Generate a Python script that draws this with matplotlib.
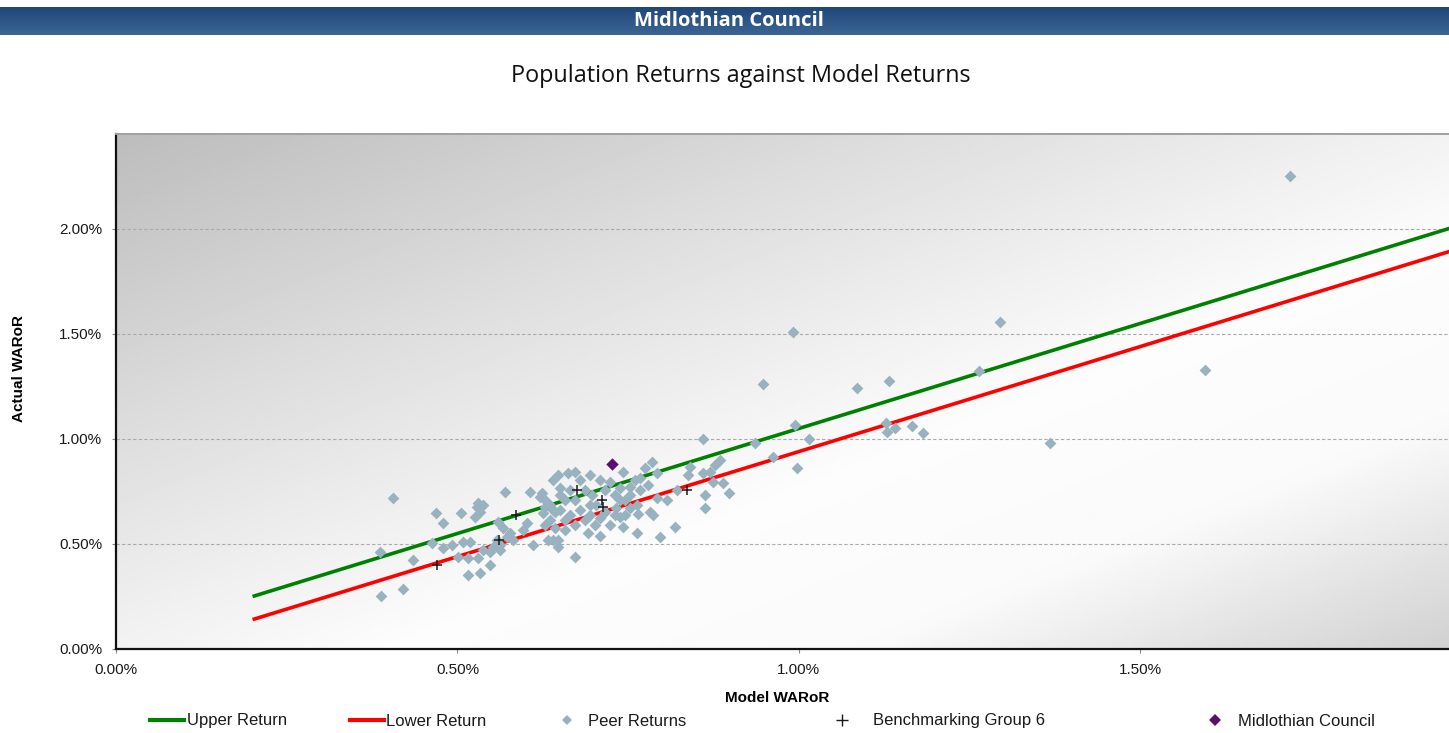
import matplotlib
matplotlib.use("Agg")
import matplotlib.pyplot as plt
import numpy as np
from matplotlib.lines import Line2D
from matplotlib.colors import LinearSegmentedColormap
from matplotlib.ticker import FuncFormatter, MultipleLocator

plt.rcParams['font.family'] = ['Liberation Sans', 'DejaVu Sans']

# 数据（单位：%）
peer_x = [1.719, 1.294, 0.991, 1.264, 1.594, 1.367, 0.947, 1.085, 1.132, 0.994,
          1.015, 0.997, 0.962, 0.936, 1.127, 1.129, 1.141, 1.165, 1.182,
          0.884, 0.889, 0.897, 0.859,
          0.877, 0.859, 0.870, 0.840, 0.837, 0.874, 0.862, 0.862, 0.818, 0.796,
          0.763, 0.742, 0.709, 0.691, 0.672, 0.647, 0.647, 0.611, 0.785, 0.775,
          0.792, 0.779, 0.753, 0.767, 0.792, 0.807, 0.763, 0.782, 0.764, 0.786,
          0.738, 0.732, 0.821, 0.742, 0.709, 0.694, 0.662, 0.647,
          0.672, 0.679, 0.687, 0.697, 0.703, 0.716, 0.723, 0.731, 0.738, 0.745,
          0.753, 0.760, 0.628, 0.635, 0.643, 0.650, 0.657, 0.665, 0.672, 0.679,
          0.687, 0.694, 0.701, 0.709, 0.716, 0.723, 0.731, 0.745, 0.753, 0.650,
          0.657, 0.665, 0.672, 0.635, 0.643, 0.628, 0.657, 0.633, 0.621, 0.640,
          0.650, 0.694, 0.738, 0.767,
          0.387, 0.388, 0.406, 0.420, 0.435, 0.469, 0.479, 0.505, 0.463, 0.479,
          0.492, 0.501, 0.515, 0.515, 0.530, 0.533, 0.548, 0.548, 0.537, 0.562,
          0.558, 0.572, 0.581, 0.559, 0.526, 0.533, 0.529, 0.537, 0.570, 0.606,
          0.624, 0.530, 0.567, 0.577, 0.596, 0.602, 0.625, 0.640, 0.640, 0.628,
          0.562, 0.552, 0.518, 0.508]
peer_y = [2.252, 1.557, 1.510, 1.324, 1.329, 0.981, 1.262, 1.243, 1.276, 1.067,
          1.000, 0.862, 0.914, 0.981, 1.076, 1.033, 1.052, 1.062, 1.029,
          0.900, 0.790, 0.743, 1.000,
          0.876, 0.838, 0.843, 0.867, 0.829, 0.795, 0.733, 0.671, 0.581, 0.533,
          0.552, 0.581, 0.538, 0.552, 0.438, 0.519, 0.486, 0.495, 0.890, 0.862,
          0.838, 0.781, 0.771, 0.757, 0.719, 0.710, 0.686, 0.652, 0.643, 0.638,
          0.629, 0.671, 0.757, 0.843, 0.805, 0.829, 0.838, 0.829,
          0.843, 0.805, 0.757, 0.733, 0.686, 0.757, 0.795, 0.733, 0.767, 0.710,
          0.733, 0.805, 0.710, 0.686, 0.652, 0.662, 0.614, 0.638, 0.590, 0.662,
          0.614, 0.638, 0.590, 0.624, 0.652, 0.590, 0.638, 0.638, 0.671, 0.733,
          0.710, 0.757, 0.710, 0.614, 0.576, 0.590, 0.567, 0.519, 0.724, 0.805,
          0.767, 0.686, 0.710, 0.814,
          0.462, 0.252, 0.719, 0.286, 0.424, 0.648, 0.600, 0.648, 0.505, 0.481,
          0.495, 0.438, 0.433, 0.352, 0.433, 0.362, 0.400, 0.462, 0.471, 0.471,
          0.519, 0.533, 0.519, 0.605, 0.629, 0.652, 0.676, 0.686, 0.748, 0.748,
          0.743, 0.695, 0.576, 0.552, 0.567, 0.600, 0.648, 0.662, 0.519, 0.676,
          0.495, 0.486, 0.510, 0.510]

bench_x = [0.470, 0.561, 0.586, 0.675, 0.712, 0.713, 0.836]
bench_y = [0.400, 0.519, 0.638, 0.757, 0.710, 0.676, 0.757]

council_x = [0.726]
council_y = [0.881]

line_x = [0.2, 2.0]
upper_y = [0.25, 2.05]
lower_y = [0.14, 1.94]

W, H = 1449, 733
fig = plt.figure(figsize=(W / 100, H / 100), dpi=100)

# 顶部蓝色标题栏
hax = fig.add_axes([0, 1 - 35 / H, 1, 28 / H])
hax.axis('off')
blue = LinearSegmentedColormap.from_list('hdr', ['#20477a', '#3a6593'])
hax.imshow(np.linspace(0, 1, 50).reshape(-1, 1), cmap=blue, aspect='auto',
           extent=[0, 1, 0, 1])
hax.set_xlim(0, 1)
hax.set_ylim(0, 1)
hax.text(0.503, 0.5, 'Midlothian Council', color='white', fontsize=14.5,
         fontweight='bold', family='Open Sans', ha='center', va='center')

fig.text(0.511, 1 - 76 / H, 'Population Returns against Model Returns',
         fontsize=16.8, family='Open Sans', ha='center', va='center', color='#111111')

# 主图
ax = fig.add_axes([116 / W, (H - 649) / H, (W - 116) / W, 515 / H])

# 背景渐变
u = np.linspace(0, 1, 400)
v = np.linspace(1, 0, 250)
U, V = np.meshgrid(u, v)
s = (U + (1 - V)) / 2
bg = np.interp(s, [0, 0.3, 0.6, 0.78, 1.0], [0.74, 0.87, 0.99, 0.98, 0.82])
ax.imshow(bg, cmap='gray', vmin=0, vmax=1, extent=[0, 1, 0, 1],
          transform=ax.transAxes, aspect='auto', zorder=0, interpolation='bilinear')

ax.plot(line_x, upper_y, color='#008000', lw=2.6, zorder=2, solid_capstyle='butt')
ax.plot(line_x, lower_y, color='#ff0000', lw=2.6, zorder=2, solid_capstyle='butt')
ax.scatter(peer_x, peer_y, marker='D', s=36, color='#98b2bf', linewidths=0, zorder=3)
ax.scatter(bench_x, bench_y, marker='+', s=55, color='#1a1a1a', linewidths=1.1, zorder=4)
ax.scatter(council_x, council_y, marker='D', s=40, color='#5a0f6e', linewidths=0, zorder=5)

ax.set_xlim(0, 1.952)
ax.set_ylim(0, 2.452)
ax.xaxis.set_major_locator(MultipleLocator(0.5))
ax.yaxis.set_major_locator(MultipleLocator(0.5))
pct = FuncFormatter(lambda val, _: f'{val:.2f}%')
ax.xaxis.set_major_formatter(pct)
ax.yaxis.set_major_formatter(pct)
ax.tick_params(labelsize=11, length=3, width=0.8, color='#888888',
               labelcolor='#1a1a1a', pad=7)
ax.yaxis.grid(True, linestyle=(0, (3, 2)), color='#aaaaaa', lw=0.8, zorder=1)
ax.set_axisbelow(True)

ax.spines['left'].set_color('#111111')
ax.spines['left'].set_linewidth(1.6)
ax.spines['bottom'].set_color('#111111')
ax.spines['bottom'].set_linewidth(1.6)
ax.spines['top'].set_color('#a0a0a0')
ax.spines['top'].set_linewidth(1.4)
ax.spines['right'].set_visible(False)

ax.set_xlabel('Model WARoR', fontsize=11, fontweight='bold')
ax.set_ylabel('Actual WARoR', fontsize=11, fontweight='bold')
ax.xaxis.set_label_coords((777 - 116) / 1333, (649 - 691) / 515)
ax.yaxis.set_label_coords((26 - 116) / 1333, (649 - 368) / 515)

# 图例（逐项放置）
fs = 12
fs_px = fs * 100 / 72
ly = 1 - 721 / H
entries = [
    (Line2D([], [], color='#008000', lw=3), 'Upper Return', 150, 34 / fs_px, 0.18),
    (Line2D([], [], color='#ff0000', lw=3), 'Lower Return', 350, 34 / fs_px, 0.12),
    (Line2D([], [], ls='none', marker='D', ms=5.5, color='#98b2bf', mew=0),
     'Peer Returns', 567 - fs_px / 2, 1.0, 0.76),
    (Line2D([], [], ls='none', marker='+', ms=8, color='#1a1a1a', mew=1),
     'Benchmarking Group 6', 842 - fs_px / 2, 1.0, 1.36),
    (Line2D([], [], ls='none', marker='D', ms=6.5, color='#5a0f6e', mew=0),
     'Midlothian Council', 1215 - fs_px / 2, 1.0, 0.88),
]
for handle, label, x0, hl, pad in entries:
    leg = fig.legend([handle], [label], loc='center left',
                     bbox_to_anchor=(x0 / W, ly), bbox_transform=fig.transFigure,
                     frameon=False, borderpad=0, borderaxespad=0,
                     handlelength=hl, handletextpad=pad, fontsize=fs)
    for t in leg.get_texts():
        t.set_color('#1a1a1a')

fig.savefig('out.png', dpi=100)
